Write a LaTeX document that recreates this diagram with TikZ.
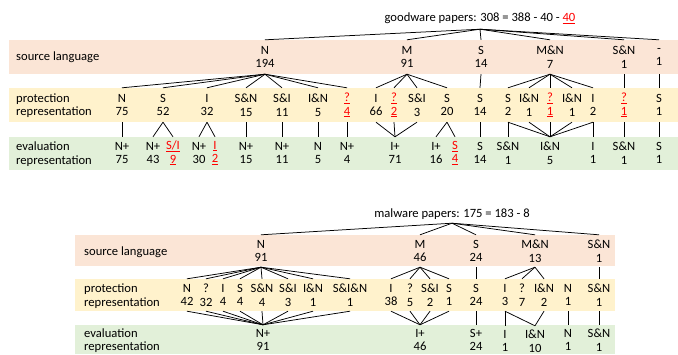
\documentclass[tikz,border=0pt]{standalone}
\usepackage{fontspec}
\setmainfont{Carlito}
\newcommand\redu[1]{\textcolor{red}{\underline{#1}}}
\definecolor{pinkband}{HTML}{FBE5D6}
\definecolor{yellowband}{HTML}{FFF2CC}
\definecolor{greenband}{HTML}{E2F0D9}
\begin{document}
\begin{tikzpicture}[x=1pt,y=-1pt,
  font=\fontsize{12.6pt}{13.6pt}\selectfont,
  nd/.style={inner sep=0pt, align=center},
  tp/.style={nd, minimum height=34pt},
  ty/.style={nd, minimum height=34pt},
  tg/.style={nd, minimum height=32pt},
  bp/.style={nd, minimum height=32pt},
  by/.style={nd, minimum height=32pt},
  bg/.style={nd, minimum height=30pt},
  lab/.style={anchor=west, align=left, inner sep=0pt},
  con/.style={draw=black, line width=0.75pt}]
\useasboundingbox (0,0) rectangle (678,354);
% bands
\fill[pinkband] (9,40) rectangle (678,74);
\fill[yellowband] (9,88) rectangle (678,122);
\fill[greenband] (9,137) rectangle (678,170);
\fill[pinkband] (75,235) rectangle (615,266);
\fill[yellowband] (75,279) rectangle (615,311);
\fill[greenband] (75,325) rectangle (615,354);
% labels
\node[lab] (l1) at (16,57) {source language};
\node[lab] (l2) at (16,105.5) {protection\\representation};
\node[lab] (l3) at (16,154) {evaluation\\representation};
\node[lab] (l4) at (84,252) {source language};
\node[lab] (l5) at (84,296) {protection\\representation};
\node[lab] (l6) at (84,340.5) {evaluation\\representation};
% ---------- goodware ----------
\node[nd, minimum height=22pt] (gt) at (480,18) {goodware papers: 308 = 388 - 40 - \redu{40}};
\node[tp] (pN) at (265,57) {N\\194};
\node[tp] (pM) at (407,57) {M\\91};
\node[tp] (pS) at (481,57) {S\\14};
\node[tp] (pMN) at (550,57) {M\&N\\7};
\node[tp] (pSN) at (624,57) {S\&N\\1};
\node[tp] (pD) at (659,57) {-\\1};
\foreach \c in {pN,pM,pS,pMN,pSN,pD} \draw[con] (gt.south) -- (\c.north);
% protection (top)
\node[ty] (y1) at (122,105) {N\\75};
\node[ty] (y2) at (163,105) {S\\52};
\node[ty] (y3) at (207,105) {I\\32};
\node[ty] (y4) at (246,105) {S\&N\\15};
\node[ty] (y5) at (282,105) {S\&I\\11};
\node[ty] (y6) at (318,105) {I\&N\\5};
\node[ty] (y7) at (347,105) {\redu{?}\\\redu{4}};
\node[ty] (y8) at (376,105) {I\\66};
\node[ty] (y9) at (394,105) {\redu{?}\\\redu{2}};
\node[ty] (y10) at (417,105) {S\&I\\3};
\node[ty] (y11) at (447,105) {S\\20};
\node[ty] (y12) at (480,105) {S\\14};
\node[ty] (y13) at (508,105) {S\\2};
\node[ty] (y14) at (529,105) {I\&N\\1};
\node[ty] (y15) at (550,105) {\redu{?}\\\redu{1}};
\node[ty] (y16) at (572,105) {I\&N\\1};
\node[ty] (y17) at (593,105) {I\\2};
\node[ty] (y18) at (624,105) {\redu{?}\\\redu{1}};
\node[ty] (y19) at (659,105) {S\\1};
\foreach \i in {1,...,7} \draw[con] (pN.south) -- (y\i.north);
\foreach \i in {8,...,11} \draw[con] (pM.south) -- (y\i.north);
\draw[con] (pS.south) -- (y12.north);
\foreach \i in {13,...,17} \draw[con] (pMN.south) -- (y\i.north);
\draw[con] (pSN.south) -- (y18.north);
\draw[con] (pD.south) -- (y19.north);
% evaluation (top)
\node[tg] (g1) at (122,153) {N+\\75};
\node[tg] (g2) at (153,153) {N+\\43};
\node[tg] (g3) at (173,153) {\redu{S/I}\\\redu{9}};
\node[tg] (g4) at (199,153) {N+\\30};
\node[tg] (g5) at (215,153) {\redu{I}\\\redu{2}};
\node[tg] (g6) at (246,153) {N+\\15};
\node[tg] (g7) at (282,153) {N+\\11};
\node[tg] (g8) at (318,153) {N\\5};
\node[tg] (g9) at (347,153) {N+\\4};
\node[tg] (g10) at (395,153) {I+\\71};
\node[tg] (g11) at (436,153) {I+\\16};
\node[tg] (g12) at (455,153) {\redu{S}\\\redu{4}};
\node[tg] (g13) at (480,153) {S\\14};
\node[tg] (g14) at (508,153) {S\&N\\1};
\node[tg] (g15) at (550,153) {I\&N\\5};
\node[tg] (g16) at (593,153) {I\\1};
\node[tg] (g17) at (624,153) {S\&N\\1};
\node[tg] (g18) at (659,153) {S\\1};
\draw[con] (y1.south) -- (g1.north);
\draw[con] (y2.south) -- (g2.north);
\draw[con] (y2.south) -- (g3.north);
\draw[con] (y3.south) -- (g4.north);
\draw[con] (y3.south) -- (g5.north);
\draw[con] (y4.south) -- (g6.north);
\draw[con] (y5.south) -- (g7.north);
\draw[con] (y6.south) -- (g8.north);
\draw[con] (y7.south) -- (g9.north);
\foreach \i in {8,9,10} \draw[con] (y\i.south) -- (g10.north);
\draw[con] (y11.south) -- (g11.north);
\draw[con] (y11.south) -- (g12.north);
\draw[con] (y12.south) -- (g13.north);
\draw[con] (y13.south) -- (g14.north);
\foreach \i in {13,...,17} \draw[con] (y\i.south) -- (g15.north);
\draw[con] (y17.south) -- (g16.north);
\draw[con] (y18.south) -- (g17.north);
\draw[con] (y19.south) -- (g18.north);
% ---------- malware ----------
\node[nd, minimum height=18pt] (bt) at (452,214) {malware papers: 175 = 183 - 8};
\node[bp] (bp1) at (261,251) {N\\91};
\node[bp] (bp2) at (420,251) {M\\46};
\node[bp] (bp3) at (476,251) {S\\24};
\node[bp] (bp4) at (535,251) {M\&N\\13};
\node[bp] (bp5) at (599,251) {S\&N\\1};
\foreach \i in {1,...,5} \draw[con] (bt.south) -- (bp\i.north);
\node[by] (by1) at (187,295) {N\\42};
\node[by] (by2) at (206,295) {?\\32};
\node[by] (by3) at (223,295) {I\\4};
\node[by] (by4) at (240,295) {S\\4};
\node[by] (by5) at (262,295) {S\&N\\4};
\node[by] (by6) at (288,295) {S\&I\\3};
\node[by] (by7) at (313,295) {I\&N\\1};
\node[by] (by8) at (350,295) {S\&I\&N\\1};
\node[by] (by9) at (391,295) {I\\38};
\node[by] (by10) at (410,295) {?\\5};
\node[by] (by11) at (430,295) {S\&I\\2};
\node[by] (by12) at (449,295) {S\\1};
\node[by] (by13) at (476,295) {S\\24};
\node[by] (by14) at (505,295) {I\\3};
\node[by] (by15) at (522,295) {?\\7};
\node[by] (by16) at (544,295) {I\&N\\2};
\node[by] (by17) at (568,295) {N\\1};
\node[by] (by18) at (599,295) {S\&N\\1};
\foreach \i in {1,...,8} \draw[con] (bp1.south) -- (by\i.north);
\foreach \i in {9,...,12} \draw[con] (bp2.south) -- (by\i.north);
\draw[con] (bp3.south) -- (by13.north);
\foreach \i in {14,15,16} \draw[con] (bp4.south) -- (by\i.north);
\draw[con] (bp5.south) -- (by18.north);
\node[bg] (bg1) at (263,340) {N+\\91};
\node[bg] (bg2) at (420,340) {I+\\46};
\node[bg] (bg3) at (476,340) {S+\\24};
\node[bg] (bg4) at (505,341) {I\\1};
\node[bg] (bg5) at (535,341) {I\&N\\10};
\node[bg] (bg6) at (568,340) {N\\1};
\node[bg] (bg7) at (599,340) {S\&N\\1};
\foreach \i in {1,...,8} \draw[con] (by\i.south) -- (bg1.north);
\foreach \i in {9,...,12} \draw[con] (by\i.south) -- (bg2.north);
\draw[con] (by13.south) -- (bg3.north);
\draw[con] (by14.south) -- (bg4.north);
\draw[con] (by14.south) -- (bg5.north);
\draw[con] (by16.south) -- (bg5.north);
\draw[con] (by17.south) -- (bg6.north);
\draw[con] (by18.south) -- (bg7.north);
\end{tikzpicture}
\end{document}
